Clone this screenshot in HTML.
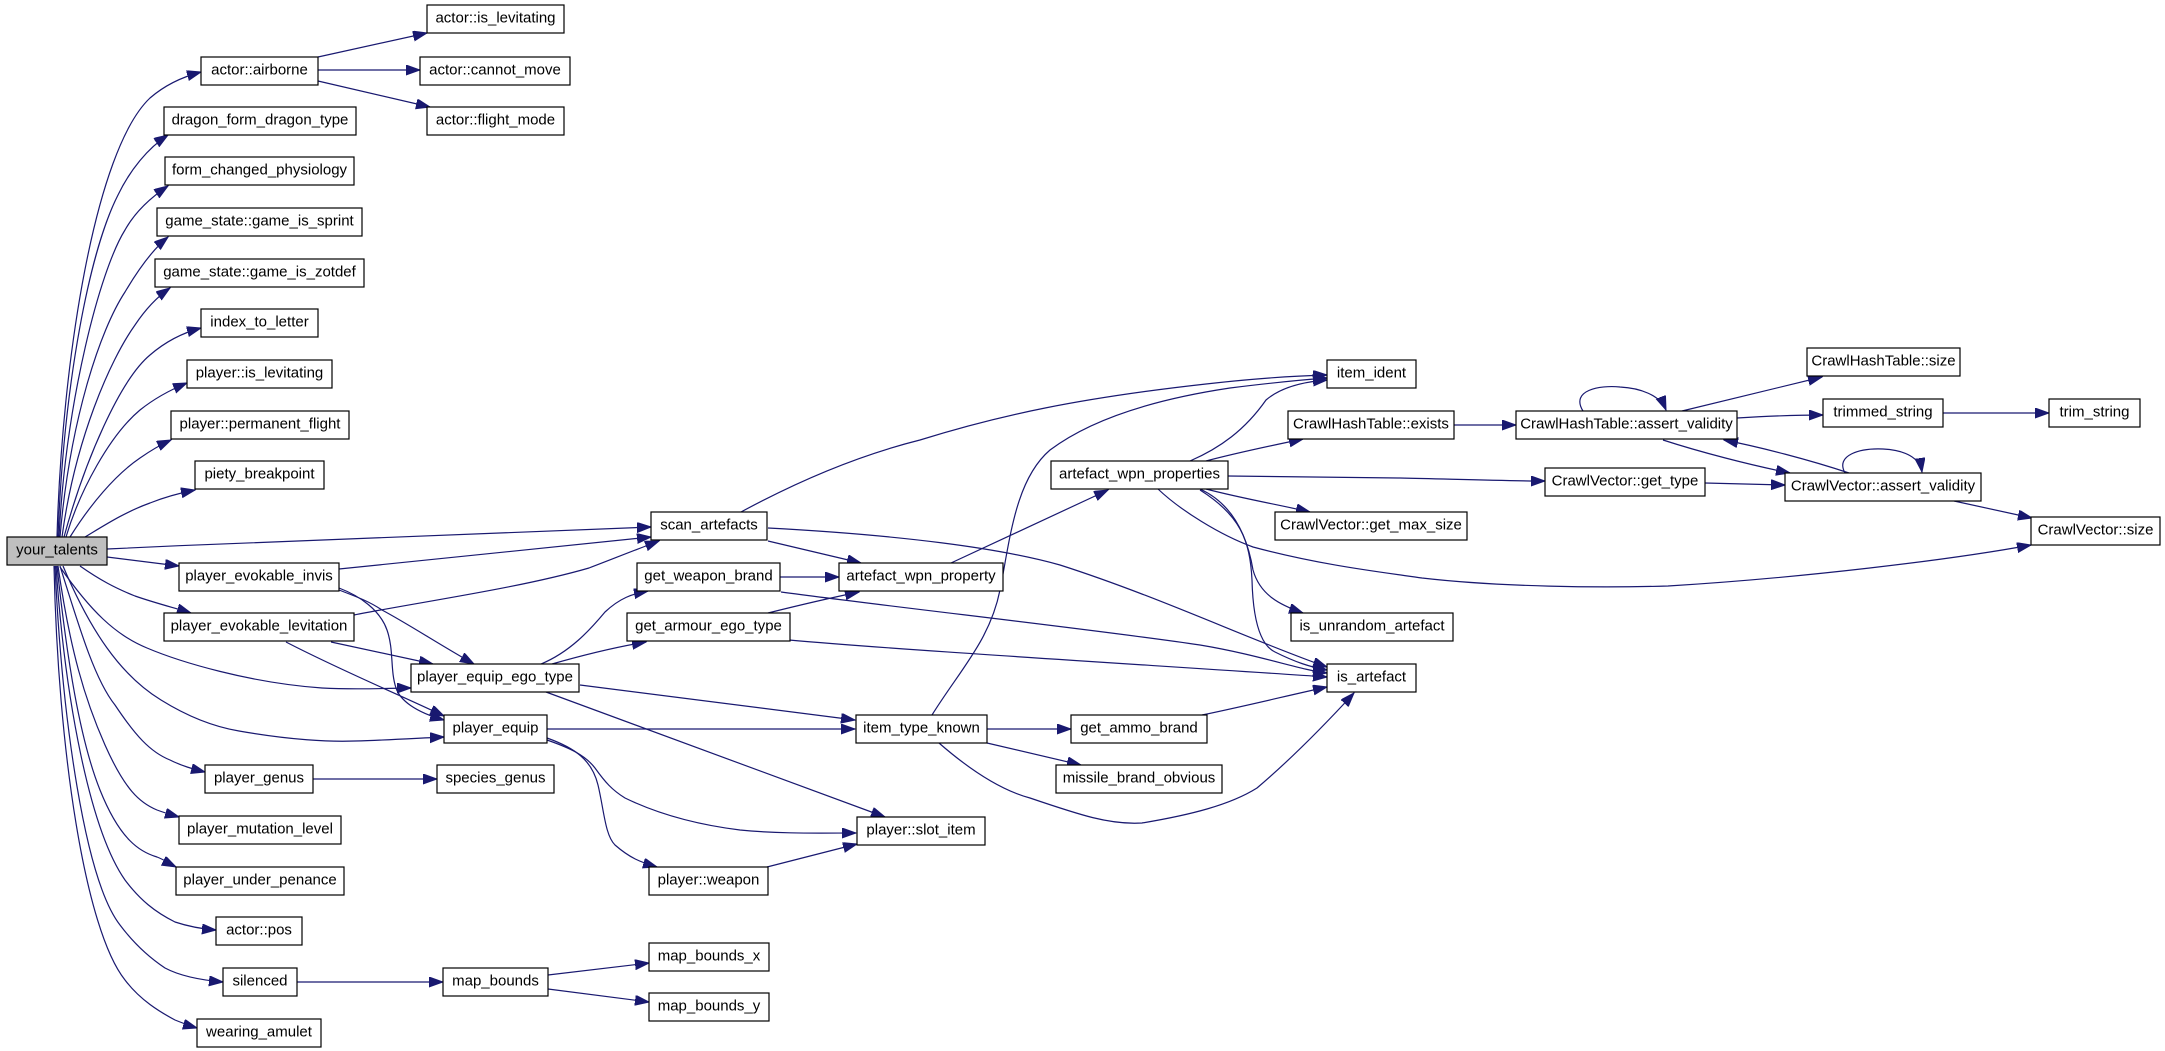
<!DOCTYPE html>
<html><head><meta charset="utf-8"><style>
html,body{margin:0;padding:0;background:#fff;}
svg{display:block;}
text{font-family:"Liberation Sans",Arial,sans-serif;font-size:15px;fill:#000;text-anchor:middle;}
.n{fill:#fff;stroke:#000;stroke-width:1.2;}
.e{fill:none;stroke:#191970;stroke-width:1.2;}
</style></head><body>
<svg width="2165" height="1051" viewBox="0 0 2165 1051" xmlns="http://www.w3.org/2000/svg">
<defs>
<marker id="a" markerUnits="userSpaceOnUse" markerWidth="15" markerHeight="11" refX="14" refY="5" orient="auto">
<path d="M0,0 L14,5 L0,10 z" fill="#191970" stroke="#191970" stroke-width="1"/>
</marker>
</defs>
<g class="e" marker-end="url(#a)">
<path d="M57,537 C62,360 95,150 150,98 C165,85 182,77 201,72"/>
<path d="M58,537 C64,380 90,250 118,195 C130,170 148,148 168,135"/>
<path d="M59,537 C66,400 100,270 125,230 C135,212 150,198 168,186"/>
<path d="M60,537 C70,420 100,330 125,292 C138,270 152,250 168,237"/>
<path d="M62,537 C75,440 110,360 135,325 C145,310 157,297 170,288"/>
<path d="M64,537 C85,460 120,380 150,355 C165,342 182,333 201,328"/>
<path d="M66,537 C80,490 110,435 140,410 C155,398 170,390 187,383"/>
<path d="M70,537 C90,505 115,475 140,458 C150,451 160,445 171,440"/>
<path d="M85,537 C105,525 125,512 150,503 C165,497 180,493 195,490"/>
<path d="M107,549 C300,540 500,532 651,527"/>
<path d="M107,557 L179,566"/>
<path d="M80,566 C100,580 115,588 135,596 C155,603 175,608 191,613"/>
<path d="M60,567 C90,610 115,635 147,648 C180,662 250,683 322,688 C360,690 390,688 411,688"/>
<path d="M63,566 C90,630 120,675 161,700 C190,718 215,727 239,731 C290,740 330,742 355,741 C390,740 420,738 444,737"/>
<path d="M60,566 C80,630 95,680 115,705 C135,735 150,752 170,760 C182,766 193,769 205,772"/>
<path d="M58,566 C70,650 85,700 105,745 C125,790 140,803 157,810 C165,813 172,815 179,817"/>
<path d="M57,566 C67,660 80,740 100,790 C120,840 140,852 157,857 C165,860 170,864 176,867"/>
<path d="M56,566 C65,700 90,830 125,880 C140,900 155,912 175,922 C190,927 203,929 216,930"/>
<path d="M55,566 C62,720 85,880 120,925 C135,945 150,958 165,968 C180,976 200,980 223,982"/>
<path d="M54,566 C58,750 85,930 125,980 C140,1000 160,1012 175,1020 C185,1024 190,1026 197,1028"/>
<path d="M318,57 L427,33"/>
<path d="M318,70 L420,70"/>
<path d="M318,81 L430,107"/>
<path d="M339,569 L651,537"/>
<path d="M354,615 C420,602 520,588 589,568 C610,560 635,550 659,541"/>
<path d="M339,590 C360,598 370,602 382,610 C410,625 440,645 474,664"/>
<path d="M339,588 C360,596 380,610 387,630 C394,650 390,670 396,688 C400,700 415,712 444,720"/>
<path d="M331,642 L433,664"/>
<path d="M286,642 C340,670 400,695 444,716"/>
<path d="M541,664 C570,652 590,630 605,612 C620,598 632,594 648,591"/>
<path d="M552,664 C580,656 610,648 646,642"/>
<path d="M580,685 C700,700 780,710 855,720"/>
<path d="M546,692 L885,817"/>
<path d="M547,729 L855,729"/>
<path d="M547,740 C570,748 585,755 595,768 C605,782 612,790 625,798 C660,815 700,825 740,830 C780,834 820,833 856,833"/>
<path d="M547,738 C575,748 592,760 598,785 C604,810 605,835 615,845 C630,858 640,862 657,867"/>
<path d="M767,867 L857,844"/>
<path d="M313,779 L437,779"/>
<path d="M297,982 L443,982"/>
<path d="M548,975 L649,963"/>
<path d="M548,989 L649,1002"/>
<path d="M741,512 C800,480 860,455 920,440 C1000,415 1080,398 1206,384 C1250,379 1290,376 1327,375"/>
<path d="M768,541 C790,546 820,553 861,563"/>
<path d="M768,528 C900,535 1000,548 1060,565 C1160,597 1250,640 1327,667"/>
<path d="M780,577 L839,577"/>
<path d="M781,592 C900,608 1100,630 1200,645 C1260,655 1300,670 1327,673"/>
<path d="M768,613 C800,605 830,598 859,592"/>
<path d="M789,640 C900,650 1150,665 1327,677"/>
<path d="M951,563 L1108,490"/>
<path d="M932,715 C960,670 990,640 1000,590 C1010,540 1015,480 1050,450 C1090,420 1150,400 1230,388 C1270,383 1300,380 1327,378"/>
<path d="M987,729 L1071,729"/>
<path d="M987,743 L1081,765"/>
<path d="M939,743 C970,770 1000,790 1030,798 C1080,815 1110,825 1142,823 C1190,815 1230,805 1257,788 C1290,760 1320,730 1354,693"/>
<path d="M1202,715 C1250,705 1290,695 1327,687"/>
<path d="M1190,461 C1220,448 1245,430 1266,400 C1280,388 1300,382 1327,380"/>
<path d="M1206,461 C1240,452 1270,446 1303,439"/>
<path d="M1228,476 L1400,478 C1450,479 1500,481 1545,481"/>
<path d="M1206,489 C1240,498 1280,505 1310,512"/>
<path d="M1200,489 C1235,505 1248,540 1253,570 C1260,595 1280,605 1303,613"/>
<path d="M1200,490 C1240,515 1250,540 1252,580 C1253,620 1260,645 1275,652 C1295,662 1310,667 1327,670"/>
<path d="M1158,489 C1180,510 1220,535 1253,547 C1320,565 1380,572 1422,578 C1500,587 1600,588 1668,586 C1800,578 1950,560 2031,545"/>
<path d="M1454,425 L1516,425"/>
<path d="M1583,411 C1570,390 1600,385 1620,387 C1640,388 1660,395 1666,410"/>
<path d="M1682,411 L1822,377"/>
<path d="M1737,418 C1770,416 1800,415 1823,415"/>
<path d="M1663,440 C1700,452 1750,465 1790,473"/>
<path d="M1849,473 C1810,460 1760,447 1724,440"/>
<path d="M1943,413 L2049,413"/>
<path d="M1705,483 L1785,485"/>
<path d="M1845,473 C1835,455 1860,448 1883,449 C1905,450 1920,458 1922,472"/>
<path d="M1954,501 L2032,518"/>
</g>
<g>
<rect class="n" x="427" y="5" width="137" height="28"/><text x="495.5" y="22.5">actor::is_levitating</text>
<rect class="n" x="201" y="57" width="117" height="28"/><text x="259.5" y="74.5">actor::airborne</text>
<rect class="n" x="420" y="57" width="150" height="28"/><text x="495" y="74.5">actor::cannot_move</text>
<rect class="n" x="427" y="107" width="137" height="28"/><text x="495.5" y="124.5">actor::flight_mode</text>
<rect class="n" x="164" y="107" width="192" height="28"/><text x="260" y="124.5">dragon_form_dragon_type</text>
<rect class="n" x="165" y="157" width="189" height="28"/><text x="259.5" y="174.5">form_changed_physiology</text>
<rect class="n" x="157" y="208" width="205" height="28"/><text x="259.5" y="225.5">game_state::game_is_sprint</text>
<rect class="n" x="155" y="259" width="209" height="28"/><text x="259.5" y="276.5">game_state::game_is_zotdef</text>
<rect class="n" x="201" y="309" width="117" height="28"/><text x="259.5" y="326.5">index_to_letter</text>
<rect class="n" x="187" y="360" width="145" height="28"/><text x="259.5" y="377.5">player::is_levitating</text>
<rect class="n" x="171" y="411" width="178" height="28"/><text x="260" y="428.5">player::permanent_flight</text>
<rect class="n" x="195" y="461" width="129" height="28"/><text x="259.5" y="478.5">piety_breakpoint</text>
<rect x="7" y="537" width="100" height="28" fill="#bfbfbf" stroke="#000" stroke-width="1.2"/><text x="57" y="554.5">your_talents</text>
<rect class="n" x="651" y="512" width="116" height="28"/><text x="709" y="529.5">scan_artefacts</text>
<rect class="n" x="179" y="563" width="160" height="28"/><text x="259" y="580.5">player_evokable_invis</text>
<rect class="n" x="164" y="613" width="190" height="28"/><text x="259" y="630.5">player_evokable_levitation</text>
<rect class="n" x="637" y="563" width="143" height="28"/><text x="708.5" y="580.5">get_weapon_brand</text>
<rect class="n" x="627" y="613" width="163" height="28"/><text x="708.5" y="630.5">get_armour_ego_type</text>
<rect class="n" x="411" y="664" width="168" height="28"/><text x="495" y="681.5">player_equip_ego_type</text>
<rect class="n" x="444" y="715" width="103" height="28"/><text x="495.5" y="732.5">player_equip</text>
<rect class="n" x="839" y="563" width="164" height="28"/><text x="921" y="580.5">artefact_wpn_property</text>
<rect class="n" x="856" y="715" width="131" height="28"/><text x="921.5" y="732.5">item_type_known</text>
<rect class="n" x="1071" y="715" width="136" height="28"/><text x="1139" y="732.5">get_ammo_brand</text>
<rect class="n" x="1056" y="765" width="166" height="28"/><text x="1139" y="782.5">missile_brand_obvious</text>
<rect class="n" x="857" y="817" width="128" height="28"/><text x="921" y="834.5">player::slot_item</text>
<rect class="n" x="649" y="867" width="119" height="28"/><text x="708.5" y="884.5">player::weapon</text>
<rect class="n" x="649" y="943" width="120" height="28"/><text x="709" y="960.5">map_bounds_x</text>
<rect class="n" x="649" y="993" width="120" height="28"/><text x="709" y="1010.5">map_bounds_y</text>
<rect class="n" x="443" y="968" width="105" height="28"/><text x="495.5" y="985.5">map_bounds</text>
<rect class="n" x="223" y="968" width="74" height="28"/><text x="260" y="985.5">silenced</text>
<rect class="n" x="197" y="1019" width="124" height="28"/><text x="259" y="1036.5">wearing_amulet</text>
<rect class="n" x="216" y="917" width="86" height="28"/><text x="259" y="934.5">actor::pos</text>
<rect class="n" x="176" y="867" width="168" height="28"/><text x="260" y="884.5">player_under_penance</text>
<rect class="n" x="179" y="816" width="162" height="28"/><text x="260" y="833.5">player_mutation_level</text>
<rect class="n" x="205" y="765" width="108" height="28"/><text x="259" y="782.5">player_genus</text>
<rect class="n" x="437" y="765" width="117" height="28"/><text x="495.5" y="782.5">species_genus</text>
<rect class="n" x="1327" y="360" width="89" height="28"/><text x="1371.5" y="377.5">item_ident</text>
<rect class="n" x="1288" y="411" width="166" height="28"/><text x="1371" y="428.5">CrawlHashTable::exists</text>
<rect class="n" x="1051" y="461" width="177" height="28"/><text x="1139.5" y="478.5">artefact_wpn_properties</text>
<rect class="n" x="1275" y="512" width="192" height="28"/><text x="1371" y="529.5">CrawlVector::get_max_size</text>
<rect class="n" x="1291" y="613" width="162" height="28"/><text x="1372" y="630.5">is_unrandom_artefact</text>
<rect class="n" x="1327" y="664" width="89" height="28"/><text x="1371.5" y="681.5">is_artefact</text>
<rect class="n" x="1516" y="411" width="221" height="28"/><text x="1626.5" y="428.5">CrawlHashTable::assert_validity</text>
<rect class="n" x="1807" y="348" width="153" height="28"/><text x="1883.5" y="365.5">CrawlHashTable::size</text>
<rect class="n" x="1823" y="399" width="120" height="28"/><text x="1883" y="416.5">trimmed_string</text>
<rect class="n" x="2049" y="399" width="91" height="28"/><text x="2094.5" y="416.5">trim_string</text>
<rect class="n" x="1545" y="468" width="160" height="28"/><text x="1625" y="485.5">CrawlVector::get_type</text>
<rect class="n" x="1785" y="473" width="196" height="28"/><text x="1883" y="490.5">CrawlVector::assert_validity</text>
<rect class="n" x="2031" y="517" width="129" height="28"/><text x="2095.5" y="534.5">CrawlVector::size</text>
</g>
</svg>
</body></html>
